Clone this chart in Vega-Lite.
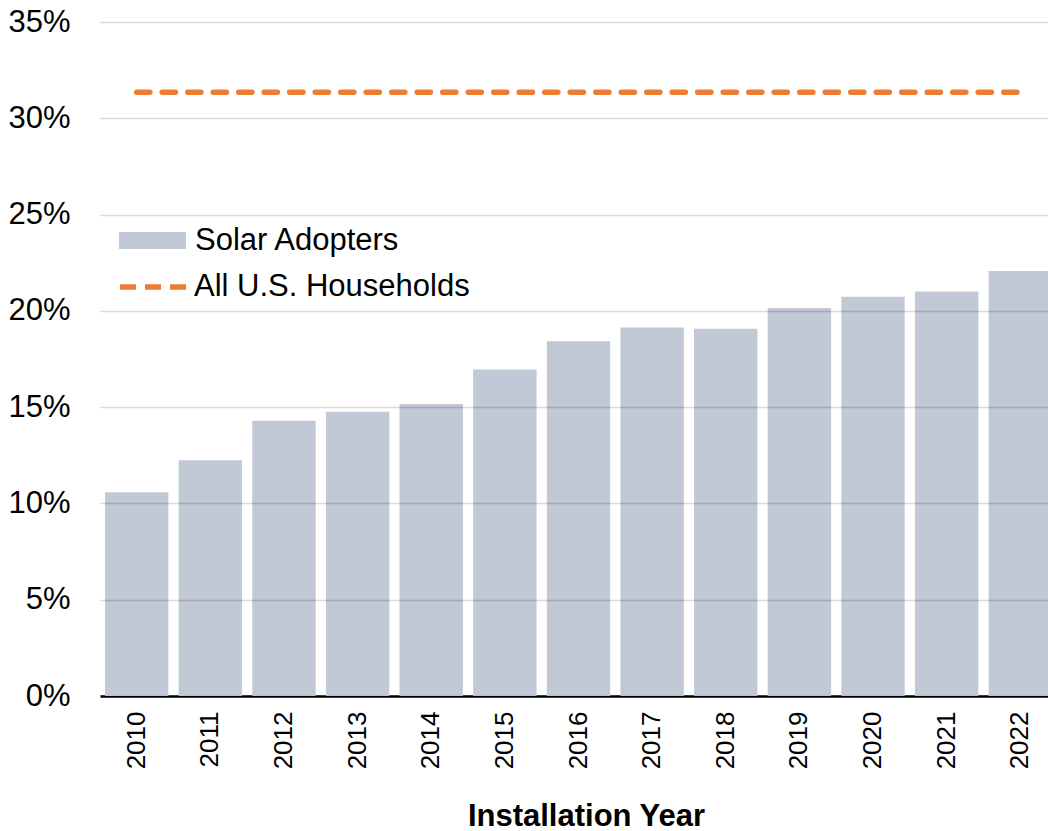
{
  "$schema": "https://vega.github.io/schema/vega-lite/v6.json",
  "width": 948,
  "height": 674,
  "autosize": "none",
  "padding": {"left": 100, "top": 22, "right": 0, "bottom": 135},
  "data": {
    "values": [
      {"year": "2010", "solar": 0.1058, "households": 0.3135},
      {"year": "2011", "solar": 0.1224, "households": 0.3135},
      {"year": "2012", "solar": 0.1429, "households": 0.3135},
      {"year": "2013", "solar": 0.1476, "households": 0.3135},
      {"year": "2014", "solar": 0.1516, "households": 0.3135},
      {"year": "2015", "solar": 0.1696, "households": 0.3135},
      {"year": "2016", "solar": 0.1842, "households": 0.3135},
      {"year": "2017", "solar": 0.1914, "households": 0.3135},
      {"year": "2018", "solar": 0.1907, "households": 0.3135},
      {"year": "2019", "solar": 0.2015, "households": 0.3135},
      {"year": "2020", "solar": 0.2073, "households": 0.3135},
      {"year": "2021", "solar": 0.2101, "households": 0.3135},
      {"year": "2022", "solar": 0.2207, "households": 0.3135}
    ]
  },
  "config": {
    "view": {"stroke": null},
    "font": "Liberation Sans",
    "axis": {"labelColor": "#000", "titleColor": "#000", "labelFont": "Liberation Sans", "titleFont": "Liberation Sans"},
    "legend": {"labelFont": "Liberation Sans", "labelColor": "#000", "padding": 0}
  },
  "layer": [
    {
      "mark": {"type": "bar"},
      "encoding": {
        "x": {
          "field": "year",
          "type": "ordinal",
          "scale": {"range": [0, 957], "paddingInner": 0.139, "paddingOuter": 0.068},
          "axis": {
            "title": "Installation Year",
            "titleFontSize": 31,
            "titleFontWeight": "bold",
            "titleX": 486,
            "titleY": 129,
            "titleAlign": "center",
            "titleBaseline": "alphabetic",
            "labelAngle": -90,
            "labelFontSize": 26,
            "labelPadding": 15,
            "ticks": false,
            "tickSize": 0,
            "domainColor": "#000",
            "domainWidth": 2.5,
            "grid": false
          }
        },
        "y": {
          "field": "solar",
          "type": "quantitative",
          "scale": {"domain": [0, 0.35]},
          "axis": {
            "title": null,
            "values": [0, 0.05, 0.1, 0.15, 0.2, 0.25, 0.3, 0.35],
            "format": ".0%",
            "labelFontSize": 31,
            "labelPadding": 30,
            "ticks": false,
            "tickSize": 0,
            "domain": false,
            "grid": true,
            "gridColor": "#000",
            "gridOpacity": 0.15,
            "gridWidth": 1.5,
            "zindex": 1
          }
        },
        "fill": {
          "datum": "Solar Adopters",
          "scale": {"range": ["#C1C9D6"]},
          "legend": {
            "title": null,
            "orient": "none",
            "legendX": 19,
            "legendY": 185,
            "symbolType": "M-1,-0.254H1V0.254H-1Z",
            "symbolSize": 4489,
            "symbolStrokeWidth": 0,
            "labelFontSize": 31,
            "labelOffset": 9,
            "labelLimit": 400
          }
        }
      }
    },
    {
      "mark": {"type": "line", "strokeWidth": 5.5, "strokeDash": [13.2, 12.3], "strokeCap": "round"},
      "encoding": {
        "x": {"field": "year", "type": "ordinal"},
        "y": {"field": "households", "type": "quantitative"},
        "stroke": {
          "datum": "All U.S. Households",
          "scale": {"range": ["#ED7D31"]},
          "legend": {
            "title": null,
            "orient": "none",
            "legendX": 17,
            "legendY": 228.5,
            "symbolType": "stroke",
            "symbolSize": 4489,
            "symbolStrokeWidth": 5.5,
            "symbolDash": [16, 9],
            "labelFontSize": 31,
            "labelOffset": 4,
            "labelLimit": 400
          }
        }
      }
    }
  ]
}
